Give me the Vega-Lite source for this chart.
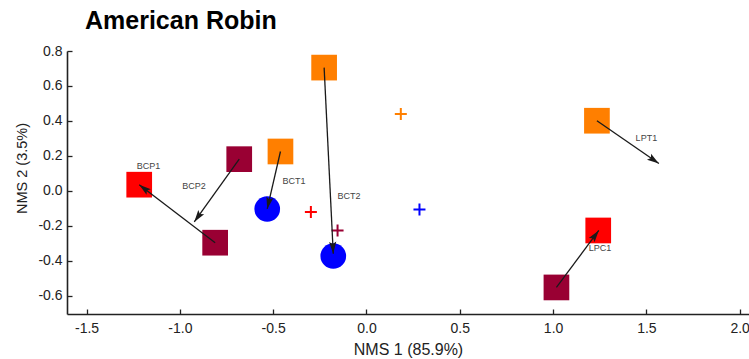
{
  "$schema": "https://vega.github.io/schema/vega-lite/v6.json",
  "width": 682,
  "height": 263,
  "autosize": {"type": "none"},
  "padding": {"left": 67, "top": 51, "right": 0, "bottom": 45},
  "background": "white",
  "title": {
    "text": "American Robin",
    "font": "Liberation Sans",
    "fontSize": 25,
    "fontWeight": "bold",
    "color": "#000000",
    "anchor": "start",
    "frame": "group",
    "baseline": "alphabetic",
    "dx": 18,
    "offset": -10
  },
  "config": {
    "view": {"stroke": null},
    "axis": {
      "grid": false,
      "domainColor": "#222222",
      "domainWidth": 1.6,
      "tickColor": "#222222",
      "tickWidth": 1.3,
      "tickSize": -5,
      "labelOverlap": false,
      "labelFont": "Liberation Sans",
      "labelFontSize": 14,
      "labelColor": "#222222",
      "titleFont": "Liberation Sans",
      "titleFontWeight": "normal",
      "titleColor": "#222222"
    }
  },
  "datasets": {
    "sites": [
      {"x": -0.227, "y": 0.705, "grp": "G1"},
      {"x": -0.461, "y": 0.225, "grp": "G1"},
      {"x": 1.235, "y": 0.401, "grp": "G1"},
      {"x": -1.218, "y": 0.035, "grp": "G2"},
      {"x": 1.242, "y": -0.227, "grp": "G2"},
      {"x": -0.682, "y": 0.181, "grp": "G3"},
      {"x": -0.811, "y": -0.297, "grp": "G3"},
      {"x": 1.018, "y": -0.553, "grp": "G3"},
      {"x": -0.532, "y": -0.104, "grp": "G4"},
      {"x": -0.178, "y": -0.373, "grp": "G4"}
    ],
    "centroids": [
      {"x": 0.184, "y": 0.44, "grp": "G1"},
      {"x": -0.298, "y": -0.122, "grp": "G2"},
      {"x": -0.155, "y": -0.227, "grp": "G3"},
      {"x": 0.284, "y": -0.107, "grp": "G4"}
    ],
    "moves": [
      {"name": "BCP1", "x": -0.811, "y": -0.297, "x2": -1.218, "y2": 0.035, "lx": -1.168, "ly": 0.142},
      {"name": "BCP2", "x": -0.682, "y": 0.181, "x2": -0.923, "y2": -0.178, "lx": -0.924, "ly": 0.026},
      {"name": "BCT1", "x": -0.461, "y": 0.225, "x2": -0.532, "y2": -0.104, "lx": -0.389, "ly": 0.054},
      {"name": "BCT2", "x": -0.227, "y": 0.705, "x2": -0.178, "y2": -0.36, "lx": -0.094, "ly": -0.027},
      {"name": "LPT1", "x": 1.235, "y": 0.401, "x2": 1.567, "y2": 0.156, "lx": 1.5, "ly": 0.305},
      {"name": "LPC1", "x": 1.018, "y": -0.553, "x2": 1.245, "y2": -0.227, "lx": 1.251, "ly": -0.329}
    ]
  },
  "layer": [
    {
      "data": {"name": "sites"},
      "mark": {"type": "point", "filled": true, "opacity": 1, "strokeWidth": 0},
      "encoding": {
        "x": {
          "field": "x", "type": "quantitative",
          "scale": {"domain": [-1.605, 2.05], "nice": false, "zero": false},
          "axis": {
            "title": "NMS 1 (85.9%)",
            "titleFontSize": 16,
            "titlePadding": 6,
            "tickCount": 20,
            "values": [-1.5, -1.0, -0.5, 0.0, 0.5, 1.0, 1.5, 2.0],
            "labelExpr": "datum.value < 0 ? '-' + format(-datum.value, '.1f') : format(datum.value, '.1f')",
            "labelPadding": 12
          }
        },
        "y": {
          "field": "y", "type": "quantitative",
          "scale": {"domain": [-0.705, 0.8], "nice": false, "zero": false},
          "axis": {
            "title": "NMS 2 (3.5%)",
            "titleFontSize": 14.5,
            "titlePadding": 8,
            "titleY": 117,
            "tickCount": 20,
            "values": [-0.6, -0.4, -0.2, 0.0, 0.2, 0.4, 0.6, 0.8],
            "labelExpr": "datum.value < 0 ? '-' + format(-datum.value, '.1f') : format(datum.value, '.1f')",
            "labelPadding": 10
          }
        },
        "color": {
          "field": "grp", "type": "nominal", "legend": null,
          "scale": {"domain": ["G1", "G2", "G3", "G4"], "range": ["#FF7F00", "#FF0000", "#990033", "#0000FF"]}
        },
        "shape": {
          "field": "grp", "type": "nominal", "legend": null,
          "scale": {"domain": ["G1", "G2", "G3", "G4"], "range": ["square", "square", "square", "circle"]}
        },
        "size": {
          "field": "grp", "type": "nominal", "legend": null,
          "scale": {"domain": ["G1", "G2", "G3", "G4"], "range": [660, 660, 660, 500]}
        }
      }
    },
    {
      "data": {"name": "centroids"},
      "mark": {"type": "point", "filled": false, "shape": "M-1,0H1M0,-1V1", "size": 144, "strokeWidth": 2, "opacity": 1},
      "encoding": {
        "x": {"field": "x", "type": "quantitative"},
        "y": {"field": "y", "type": "quantitative"},
        "color": {"field": "grp", "type": "nominal", "legend": null}
      }
    },
    {
      "data": {"name": "moves"},
      "mark": {"type": "rule", "color": "#1a1a1a", "strokeWidth": 1.3},
      "encoding": {
        "x": {"field": "x", "type": "quantitative"},
        "y": {"field": "y", "type": "quantitative"},
        "x2": {"field": "x2"},
        "y2": {"field": "y2"}
      }
    },
    {
      "data": {"name": "moves"},
      "transform": [
        {"calculate": "atan2((datum.x2 - datum.x) * 186.6, (datum.y2 - datum.y) * 175.6) * 180 / PI", "as": "heading"}
      ],
      "mark": {"type": "point", "filled": true, "shape": "M0,0L-0.6,2L0,1.6L0.6,2Z", "size": 144, "color": "#1a1a1a", "opacity": 1, "strokeWidth": 0},
      "encoding": {
        "x": {"field": "x2", "type": "quantitative"},
        "y": {"field": "y2", "type": "quantitative"},
        "angle": {"field": "heading", "type": "quantitative", "scale": null}
      }
    },
    {
      "data": {"name": "moves"},
      "mark": {"type": "text", "font": "Liberation Sans", "fontSize": 9, "color": "#444444", "align": "center", "baseline": "middle"},
      "encoding": {
        "x": {"field": "lx", "type": "quantitative"},
        "y": {"field": "ly", "type": "quantitative"},
        "text": {"field": "name"}
      }
    }
  ]
}
